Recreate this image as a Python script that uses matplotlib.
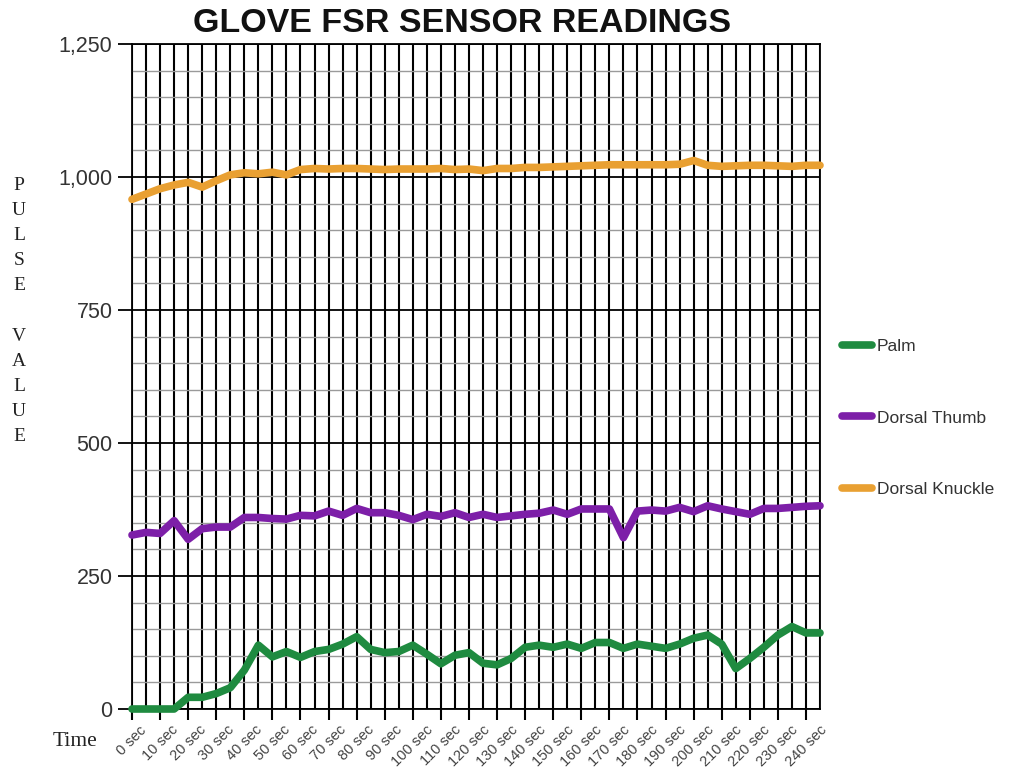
import matplotlib.pyplot as plt
from matplotlib.ticker import MultipleLocator, FuncFormatter

# sample times (s) and FSR pulse values per sensor
seconds = list(range(0, 250, 5))

palm = [0, 0, 0, 0, 22, 22, 29, 40, 73, 120,
        98, 108, 97, 108, 112, 122, 136, 112, 106, 108,
        120, 103, 85, 101, 106, 86, 83, 95, 116, 120,
        116, 122, 114, 125, 125, 114, 122, 118, 114, 122,
        133, 139, 122, 76, 95, 116, 139, 155, 143, 143]

dorsal_thumb = [327, 332, 330, 354, 319, 339, 342, 342, 360, 360,
                358, 357, 364, 363, 372, 364, 377, 369, 369, 364,
                356, 366, 362, 369, 360, 366, 360, 363, 366, 368,
                374, 366, 376, 376, 376, 322, 372, 374, 372, 379,
                371, 382, 376, 371, 366, 377, 377, 379, 381, 382]

dorsal_knuckle = [958, 968, 978, 985, 990, 981, 993, 1004, 1008, 1006,
                  1009, 1004, 1014, 1016, 1015, 1016, 1016, 1015, 1014, 1015,
                  1015, 1015, 1016, 1014, 1015, 1012, 1016, 1016, 1018, 1018,
                  1019, 1020, 1021, 1022, 1023, 1023, 1023, 1023, 1023, 1024,
                  1031, 1022, 1020, 1021, 1022, 1022, 1021, 1020, 1022, 1022]

series = [("Palm", palm, "#1f8b40"),
          ("Dorsal Thumb", dorsal_thumb, "#7d1fa8"),
          ("Dorsal Knuckle", dorsal_knuckle, "#e9a032")]

W, H = 1013, 770
fig = plt.figure(figsize=(W / 100, H / 100), dpi=100)
ax = fig.add_axes([132 / W, 1 - 709 / H, 688 / W, 665 / H])

for name, vals, color in series:
    ax.plot(seconds, vals, color=color, lw=5.5, label=name,
            solid_capstyle="round", solid_joinstyle="round",
            zorder=3, clip_on=False)

ax.set_xlim(0, 245)
ax.set_ylim(0, 1250)

ax.yaxis.set_major_locator(MultipleLocator(250))
ax.yaxis.set_minor_locator(MultipleLocator(50))
ax.yaxis.set_major_formatter(FuncFormatter(lambda v, p: f"{int(v):,}"))
ax.xaxis.set_major_locator(MultipleLocator(10))
ax.xaxis.set_minor_locator(MultipleLocator(5))
ax.xaxis.set_major_formatter(FuncFormatter(lambda v, p: f"{int(v)} sec"))

ax.set_axisbelow(True)
ax.grid(which="minor", axis="y", color="#9a9a9a", lw=1.0)
ax.grid(which="major", axis="y", color="black", lw=1.3)
ax.grid(which="both", axis="x", color="black", lw=1.5)

for s in ax.spines.values():
    s.set_color("black")
    s.set_linewidth(1.3)

ax.tick_params(axis="y", which="major", length=10, width=1.3,
               labelsize=15.5, labelcolor="#333333", pad=4)
ax.tick_params(axis="y", which="minor", length=0)
ax.tick_params(axis="x", which="major", length=8, width=1.5,
               labelsize=10.5, labelcolor="#444444", pad=2)
ax.tick_params(axis="x", which="minor", length=0)
for lab in ax.get_xticklabels():
    lab.set_rotation(45)
    lab.set_ha("center")
    lab.set_fontfamily("Liberation Sans")
for lab in ax.get_yticklabels():
    lab.set_fontfamily("Liberation Sans")

fig.text(462 / W, 1 - 23 / H, "GLOVE FSR SENSOR READINGS",
         ha="center", va="center", fontsize=24.5, fontweight="bold",
         family="Liberation Sans", color="#111111")

# vertical, letter-stacked axis title
fig.text(19 / W, 1 - 311 / H, "P\nU\nL\nS\nE\n\nV\nA\nL\nU\nE",
         ha="center", va="center", fontsize=14, family="Liberation Serif",
         linespacing=1.62, color="#222222")
fig.text(75 / W, 1 - 742 / H, "Time", ha="center", va="center",
         fontsize=15.5, family="Liberation Serif", color="#222222")

ax.legend(loc="center left", bbox_to_anchor=(842 / W, 1 - 418 / H),
          bbox_transform=fig.transFigure, frameon=False,
          borderpad=0, borderaxespad=0, labelspacing=3.26,
          handlelength=1.7, handletextpad=0.3, labelcolor="#333333",
          prop={"family": "Liberation Sans", "size": 12.5})

fig.savefig("out.png", dpi=100)
